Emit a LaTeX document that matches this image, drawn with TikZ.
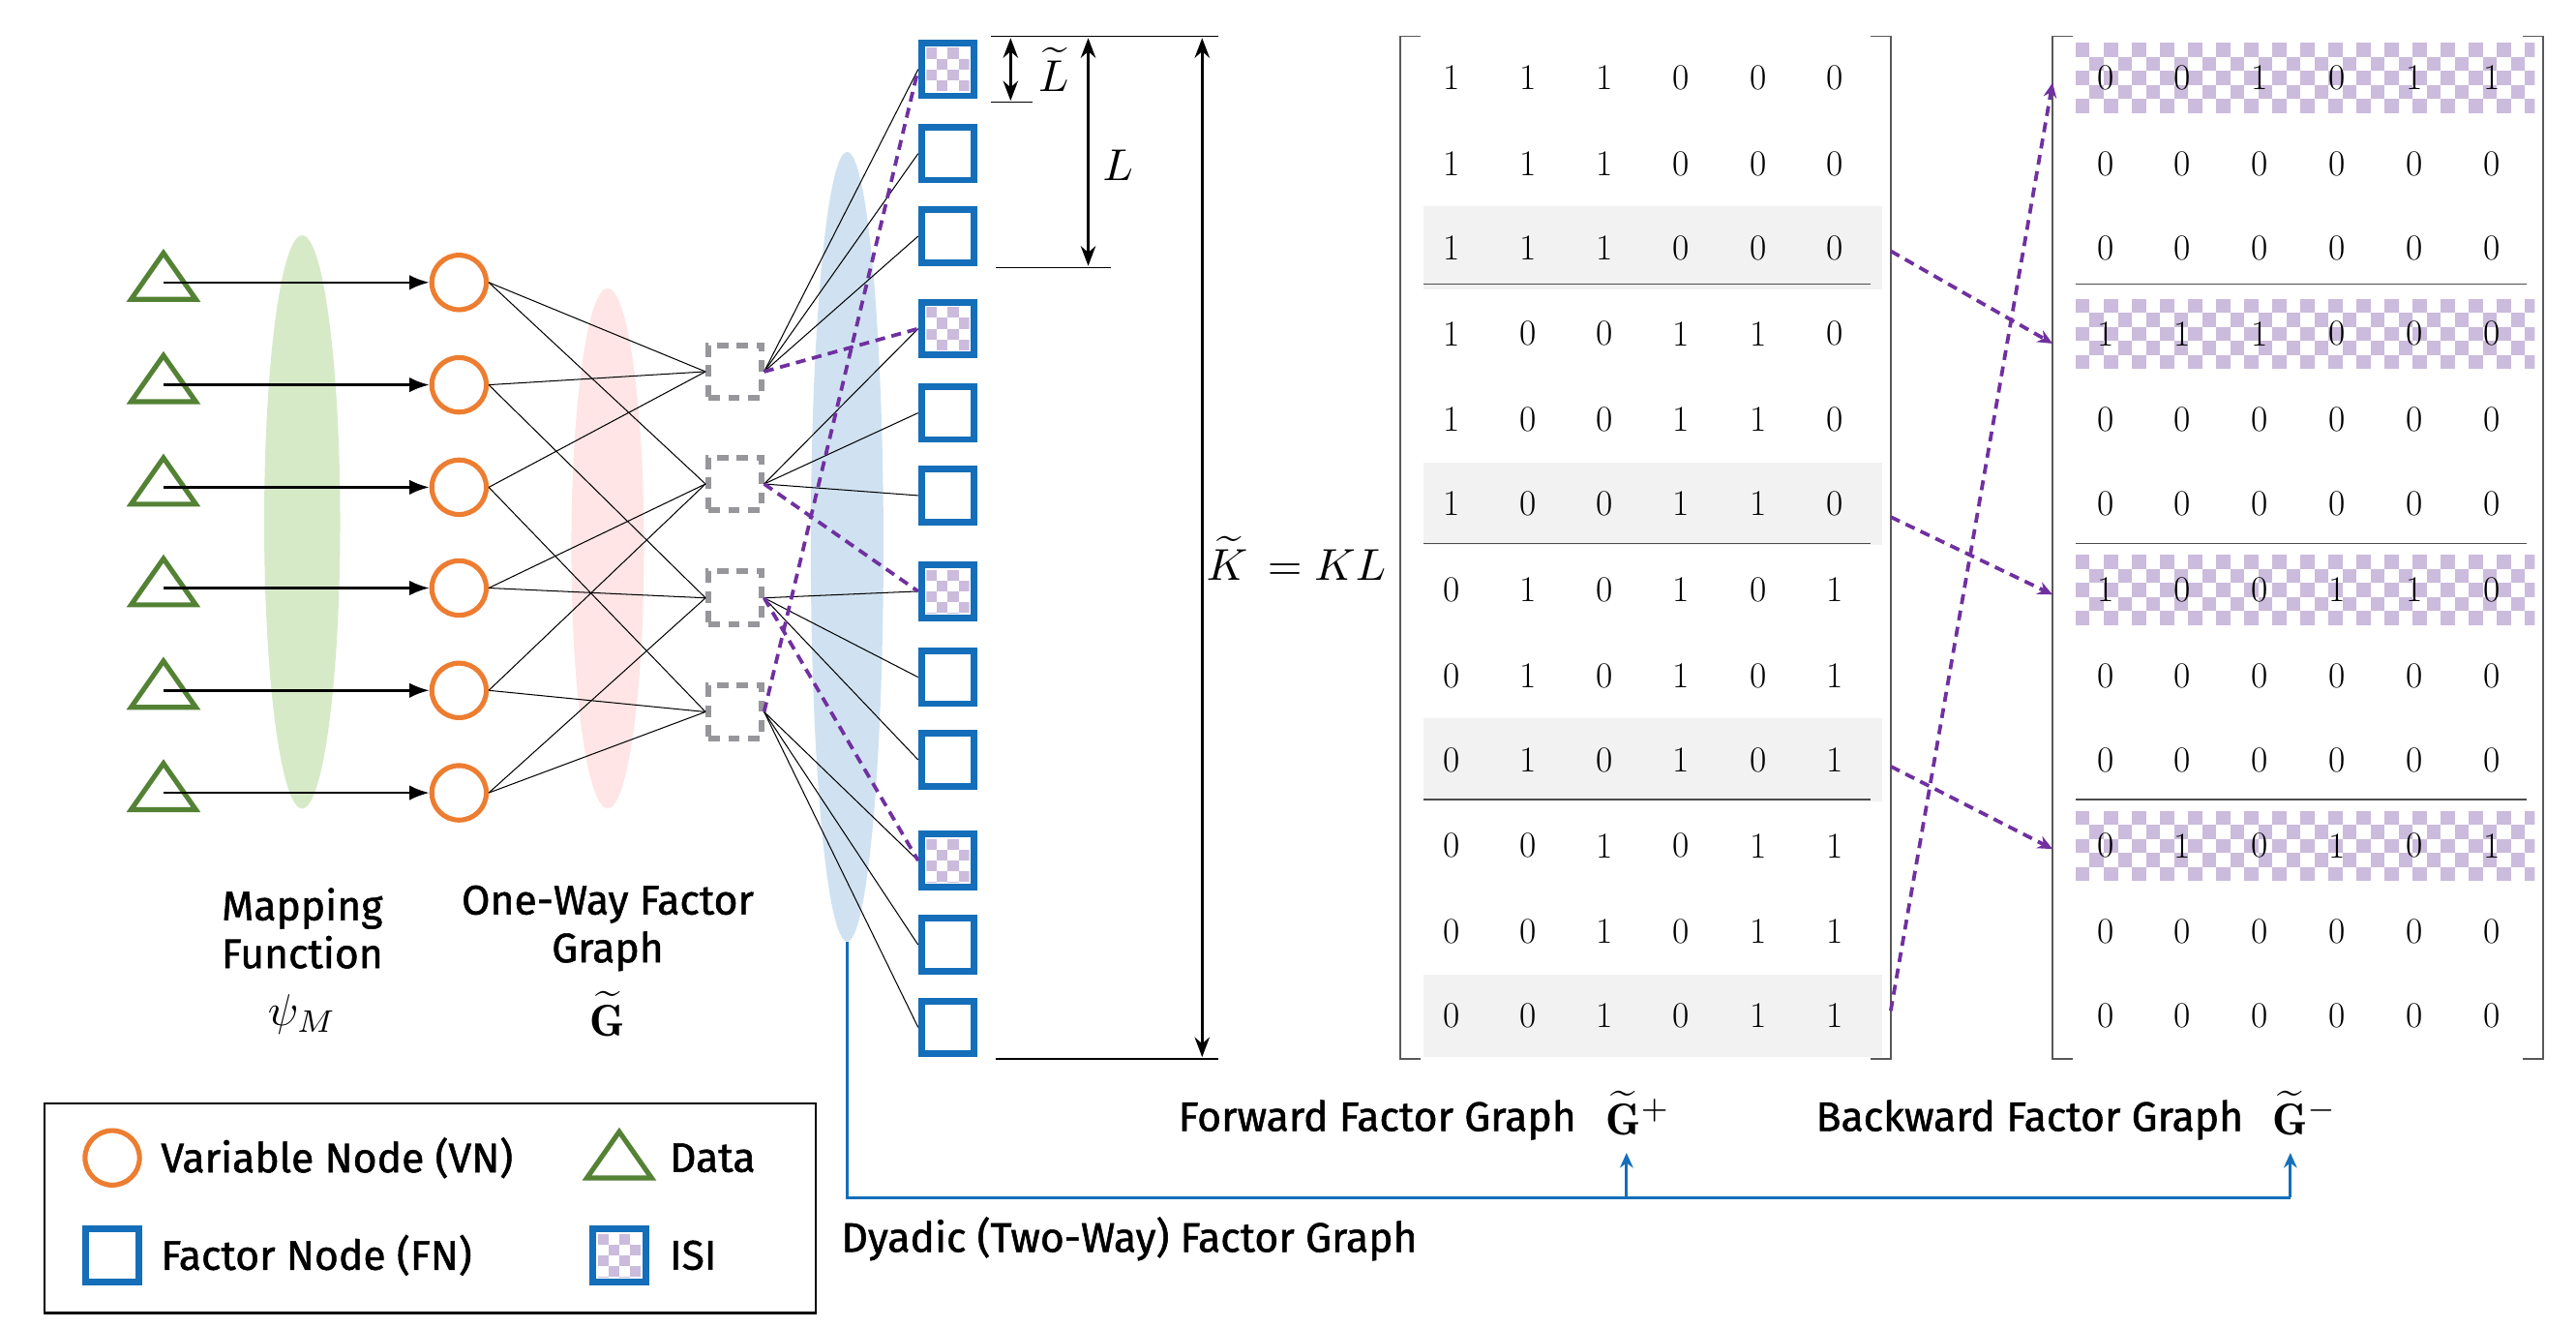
\RequirePackage{fix-cm}
\documentclass[tikz,border=0pt]{standalone}
\usepackage{amsmath}
\usepackage{graphicx}
\usepackage{fontspec}
\setsansfont{Fira Sans}[UprightFeatures={FakeBold=1.2}]
\usetikzlibrary{shapes.geometric,arrows.meta}
\definecolor{vno}{RGB}{237,125,49}
\definecolor{dg}{RGB}{84,130,53}
\definecolor{fnb}{RGB}{20,110,185}
\definecolor{pur}{RGB}{112,48,160}
\definecolor{chkc}{RGB}{203,187,220}
\definecolor{gfn}{RGB}{150,150,155}
\definecolor{rowg}{RGB}{242,242,242}
\definecolor{gell}{RGB}{214,234,200}
\newcommand\chk[5]{\begin{scope}[shift={(#1,#2)}]\clip (0,0) rectangle (#3,#4);
\pgfmathsetmacro\cs{#5}\pgfmathsetmacro\cd{2*#5}
\foreach \xx in {0,\cd,...,#3}{\foreach \yy in {0,\cd,...,#4}{\fill[chkc] (\xx,\yy) rectangle ++(\cs,\cs); \fill[chkc] (\xx+\cs,\yy+\cs) rectangle ++(\cs,\cs);}}\end{scope}}
\newcommand\bgmth[1]{\scalebox{2.7}{$#1$}}
\tikzset{
 vn/.style={circle,draw=vno,line width=3pt,minimum size=33pt,inner sep=0},
 dat/.style={isosceles triangle,shape border rotate=90,isosceles triangle apex angle=70,draw=dg,line width=3pt,minimum width=38pt,minimum height=28pt,inner sep=0},
 gf/.style={draw=gfn,line width=3.5pt,dash pattern=on 7pt off 5pt,minimum size=32pt,inner sep=0},
 fn/.style={draw=fnb,line width=4pt,minimum size=32pt,inner sep=0},
 ed/.style={line width=0.6pt,black},
 pd/.style={pur,line width=2.2pt,dash pattern=on 6pt off 4pt},
 pa/.style={pd,-{Stealth[length=9pt,width=8pt]}},
 dim/.style={line width=1.8pt,{Stealth[length=12pt,width=9pt]}-{Stealth[length=12pt,width=9pt]}},
 lab/.style={font=\sffamily\fontsize{25}{29}\selectfont,align=center},
 num/.style={font=\fontsize{22}{24}\selectfont},
 mth/.style={inner sep=1pt},
}
\begin{document}
\begin{tikzpicture}[x=1pt,y=-1pt]
\useasboundingbox (0,0) rectangle (1560,803.5);
% ellipses
\node[ellipse,fill=gell,minimum width=46pt,minimum height=347pt] (ge) at (183,316) {};
\node[ellipse,fill=red!10,minimum width=44pt,minimum height=315pt] (pe) at (368,332) {};
\node[ellipse,fill=fnb!20,minimum width=44pt,minimum height=478pt] (be) at (513,331) {};
% data and VN
\foreach \i/\y in {1/171,2/233,3/295,4/356,5/418,6/480}{
 \node[dat] (d\i) at (99,\y) {};
 \node[vn] (v\i) at (278,\y) {};
 \draw[line width=1.5pt,-{Latex[length=12pt,width=9pt]}] (d\i.center) -- (v\i.west);
}
\foreach \i/\y in {1/225,2/293,3/362,4/431}{\node[gf] (g\i) at (445,\y) {};}
\foreach \a/\b in {1/1,1/2,2/1,2/3,3/1,3/4,4/2,4/3,5/2,5/4,6/3,6/4}{\draw[ed] (v\a.east) -- (g\b.west);}
% FN squares
\foreach \i/\y in {1/42,4/199,7/358,10/521}{\chk{561}{\y-13}{26}{26}{6.5}}
\foreach \i/\y in {1/42,2/93,3/143,4/199,5/250,6/300,7/358,8/410,9/460,10/521,11/572,12/622}{\node[fn] (f\i) at (574,\y) {};}
\foreach \a/\b in {1/1,1/2,1/3,2/4,2/5,2/6,3/7,3/8,3/9,4/10,4/11,4/12}{\draw[ed] (g\a.east) -- (f\b.west);}
\foreach \a/\b in {1/4,2/7,3/10,4/1}{\draw[pd] (g\a.east) -- (f\b.west);}
% dimensions
\coordinate (t0) at (600,22); \coordinate (t1) at (738,22);
\draw[line width=0.8pt] (t0) -- (t1);
\draw[line width=0.8pt] (600,62) -- (625,62);
\draw[line width=0.8pt] (603,162) -- (673,162);
\draw[line width=0.8pt] (603,641) -- (738,641);
\draw[dim] (612,23) -- (612,61);
\draw[dim] (659,23) -- (659,161);
\draw[dim] (728,23) -- (728,640);
\node[mth] (lt) at (638,42) {\bgmth{\widetilde{L}}};
\node[mth] (ll) at (677,100) {\bgmth{L}};
\node[mth] (kl) at (785,338) {\bgmth{\widetilde{K}\,=KL}};
% labels
\node[lab] (mf) at (183,562) {Mapping\\Function};
\node[mth] (psi) at (183,614) {\bgmth{\psi_M}};
\node[lab] (ow) at (368,562) {One-Way Factor\\Graph};
\node[mth] (gt) at (368,614) {\bgmth{\widetilde{\mathbf{G}}}};
% matrices
\foreach \k/\x in {1/848,2/1243}{
 \draw[line width=0.8pt,gray!70!black] (\x+12,22) -- (\x,22) -- (\x,641) -- (\x+12,641);
 \draw[line width=0.8pt,gray!70!black] (\x+285,22) -- (\x+297,22) -- (\x+297,641) -- (\x+285,641);
}
\foreach \y in {150,305,460,615}{\fill[rowg] (862,\y-25) rectangle (1140,\y+25);}
\foreach \y in {47,202,357,512}{\chk{1257}{\y-21}{278}{42}{8.5}}
\foreach \y in {172,329,484}{\draw[line width=0.8pt,gray!60!black] (862,\y) -- (1133,\y); \draw[line width=0.8pt,gray!60!black] (1257,\y) -- (1530,\y);}
\foreach \r/\y/\vals in {1/47/{1,1,1,0,0,0},2/99/{1,1,1,0,0,0},3/150/{1,1,1,0,0,0},4/202/{1,0,0,1,1,0},5/254/{1,0,0,1,1,0},6/305/{1,0,0,1,1,0},7/357/{0,1,0,1,0,1},8/409/{0,1,0,1,0,1},9/460/{0,1,0,1,0,1},10/512/{0,0,1,0,1,1},11/564/{0,0,1,0,1,1},12/615/{0,0,1,0,1,1}}{
 \foreach \v [count=\c] in \vals {\node[num] (a\r-\c) at (879+46.4*\c-46.4,\y) {\v};}}
\foreach \r/\y/\vals in {1/47/{0,0,1,0,1,1},2/99/{0,0,0,0,0,0},3/150/{0,0,0,0,0,0},4/202/{1,1,1,0,0,0},5/254/{0,0,0,0,0,0},6/305/{0,0,0,0,0,0},7/357/{1,0,0,1,1,0},8/409/{0,0,0,0,0,0},9/460/{0,0,0,0,0,0},10/512/{0,1,0,1,0,1},11/564/{0,0,0,0,0,0},12/615/{0,0,0,0,0,0}}{
 \foreach \v [count=\c] in \vals {\node[num] (b\r-\c) at (1275+46.8*\c-46.8,\y) {\v};}}
\coordinate (s1) at (1145,152); \coordinate (e1) at (1243,208);
\coordinate (s2) at (1145,313); \coordinate (e2) at (1243,360);
\coordinate (s3) at (1145,464); \coordinate (e3) at (1243,514);
\coordinate (s4) at (1145,612); \coordinate (e4) at (1243,50);
\foreach \i in {1,...,4}{\draw[pa] (s\i) -- (e\i);}
% bottom labels
\node[lab,anchor=east] (fw) at (958,678) {Forward Factor Graph};
\node[mth] (gp) at (992,674) {\bgmth{\widetilde{\mathbf{G}}^{+}}};
\node[lab,anchor=east] (bw) at (1362,678) {Backward Factor Graph};
\node[mth] (gm) at (1396,674) {\bgmth{\widetilde{\mathbf{G}}^{-}}};
\coordinate (j1) at (985,725); \coordinate (j2) at (1387,725);
\draw[fnb,line width=1.8pt] (be.south) |- (j2);
\draw[fnb,line width=1.8pt,-{Stealth[length=9pt,width=8pt]}] (j1) -- (985,698);
\draw[fnb,line width=1.8pt,-{Stealth[length=9pt,width=8pt]}] (j2) -- (1387,698);
\node[lab,anchor=west] (dy) at (506,750) {Dyadic (Two-Way) Factor Graph};
% legend
\draw[line width=1.5pt] (27,668) rectangle (494,795);
\node[vn] (lv) at (68,701) {};
\node[lab,anchor=west] (lvt) at (94,701) {Variable Node (VN)};
\node[dat] (ld) at (375,703) {};
\node[lab,anchor=west] (ldt) at (402,701) {Data};
\node[fn] (lf) at (68,760) {};
\node[lab,anchor=west] (lft) at (94,760) {Factor Node (FN)};
\chk{362}{747}{26}{26}{6.5}
\node[fn] (li) at (375,760) {};
\node[lab,anchor=west] (lit) at (402,760) {ISI};
\end{tikzpicture}
\end{document}
